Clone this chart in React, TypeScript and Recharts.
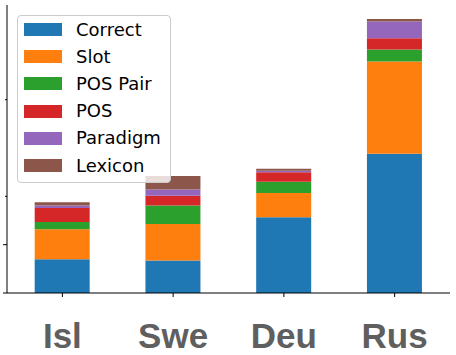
import React from "react";
import { BarChart, Bar, XAxis, YAxis, Legend } from "recharts";

const languages = ["Isl", "Swe", "Deu", "Rus"];
const correct = [70, 67, 157, 288];
const slot = [62, 76, 50, 191];
const posPair = [15, 38, 23, 25];
const pos = [29, 20, 20, 23];
const paradigm = [5, 13, 3, 35];
const lexicon = [7, 28, 4, 5];

const majorTicks = [0, 100, 300, 500];
const minorTicks = [200, 400];

const series = [
  { key: "Correct", values: correct, color: "#1f77b4" },
  { key: "Slot", values: slot, color: "#ff7f0e" },
  { key: "POS Pair", values: posPair, color: "#2ca02c" },
  { key: "POS", values: pos, color: "#d62728" },
  { key: "Paradigm", values: paradigm, color: "#9467bd" },
  { key: "Lexicon", values: lexicon, color: "#8c564b" },
];
const order = series.map((s) => s.key);

const data = languages.map((lang, i) => {
  const row: Record<string, string | number> = { lang };
  series.forEach((s) => (row[s.key] = s.values[i]));
  return row;
});

const YTick = (props: any) => {
  const { x, y, payload } = props;
  const len = minorTicks.includes(payload.value) ? 2 : 4;
  return <line x1={x - len} x2={x} y1={y} y2={y} stroke="#000" strokeWidth={1} />;
};

const LegendBox = (props: any) => {
  const items = [...(props.payload || [])].sort(
    (a: any, b: any) => order.indexOf(a.value) - order.indexOf(b.value)
  );
  return (
    <div
      style={{
        border: "1px solid #cccccc",
        borderRadius: 4,
        background: "rgba(255,255,255,0.8)",
        padding: "0 9px 3px 6px",
        fontFamily: "DejaVu Sans",
        fontSize: 18,
        color: "#000",
      }}
    >
      {items.map((it: any) => (
        <div key={it.value} style={{ height: 27.2, display: "flex", alignItems: "center" }}>
          <span style={{ width: 38, height: 13, background: it.color, marginRight: 14, display: "inline-block" }} />
          <span style={{ lineHeight: "18px" }}>{it.value}</span>
        </div>
      ))}
    </div>
  );
};

export default function App() {
  return (
    <div style={{ position: "absolute", left: 0, top: 0, background: "#fff" }}>
      <BarChart
        width={456}
        height={355}
        data={data}
        barCategoryGap="25%"
        margin={{ top: 5, right: 6, left: 0, bottom: 0 }}
      >
        <XAxis
          dataKey="lang"
          interval={0}
          height={62}
          tickSize={4}
          tickMargin={26}
          axisLine={{ stroke: "#000" }}
          tickLine={{ stroke: "#000" }}
          tick={{ fontSize: 35, fontWeight: "bold", fill: "#5f5f5f", fontFamily: "Liberation Sans" }}
        />
        <XAxis xAxisId="top" dataKey="lang" orientation="top" height={0} tick={false} tickLine={false} axisLine={{ stroke: "#000" }} />
        <YAxis
          width={7}
          domain={[0, 596]}
          ticks={[...majorTicks, ...minorTicks]}
          tickSize={0}
          tickMargin={0}
          tickLine={false}
          axisLine={{ stroke: "#000" }}
          tick={<YTick />}
        />
        <YAxis yAxisId="right" orientation="right" width={0} domain={[0, 596]} tick={false} tickLine={false} axisLine={{ stroke: "#000" }} />
        <Legend
          layout="vertical"
          align="center"
          verticalAlign="middle"
          itemSorter={null as any}
          wrapperStyle={{ left: 17, top: 15, width: "auto", height: "auto" }}
          content={<LegendBox />}
        />
        {series.map((s) => (
          <Bar key={s.key} dataKey={s.key} name={s.key} stackId="a" fill={s.color} isAnimationActive={false} />
        ))}
      </BarChart>
    </div>
  );
}
